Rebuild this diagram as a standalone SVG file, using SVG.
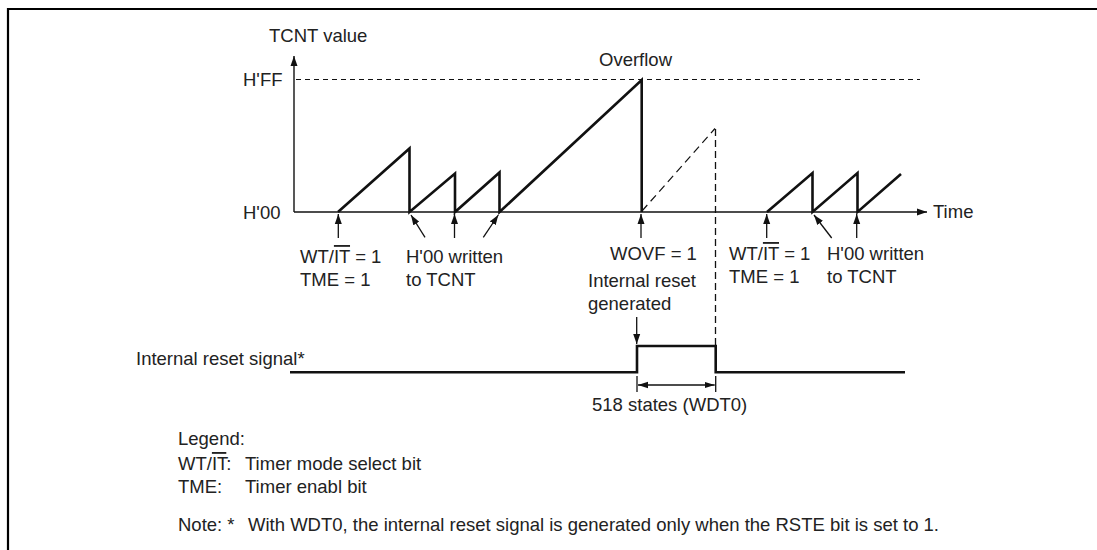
<svg xmlns="http://www.w3.org/2000/svg" width="1097" height="550" viewBox="0 0 1097 550">
<style>
text{font-family:"Liberation Sans",Arial,sans-serif;font-size:18.5px;fill:#222}
.ov{text-decoration:overline}
.ax{stroke:#111;stroke-width:1.4;fill:none}
.wave{stroke:#111;stroke-width:2.6;fill:none;stroke-linejoin:miter}
.ann{stroke:#111;stroke-width:1.3;fill:none}
.dash1{stroke:#111;stroke-width:1.2;fill:none;stroke-dasharray:5 4}
.dash2{stroke:#111;stroke-width:1.2;fill:none;stroke-dasharray:8 5}
.dash3{stroke:#111;stroke-width:1.3;fill:none;stroke-dasharray:7 4}
</style>
<defs>
<marker id="ah" markerUnits="userSpaceOnUse" markerWidth="12" markerHeight="8" refX="10" refY="4" orient="auto">
<path d="M0,0.5 L10,4 L0,7.5 Z" fill="#111"/>
</marker>
<marker id="ahs" markerUnits="userSpaceOnUse" markerWidth="12" markerHeight="8" refX="10" refY="4" orient="auto-start-reverse">
<path d="M0,0.8 L10,4 L0,7.2 Z" fill="#111"/>
</marker>
</defs>
<rect width="1097" height="550" fill="#fff"/>
<g id="frame">
<path d="M8,550 L8,9 L1097,9" stroke="#000" stroke-width="2.2" fill="none"/>
</g>
<g id="axes">
<line class="ax" x1="294" y1="212" x2="294" y2="56" marker-end="url(#ah)"/>
<line class="ax" x1="294" y1="212" x2="927" y2="212" marker-end="url(#ah)"/>
<line class="dash1" x1="296" y1="79.5" x2="920" y2="79.5"/>
<text x="269" y="42">TCNT value</text>
<text x="243" y="86">H'FF</text>
<text x="243" y="219">H'00</text>
<text x="933" y="218">Time</text>
<text x="599" y="66">Overflow</text>
</g>
<g id="tcnt-waveform">
<path class="wave" d="M338,212 L409.5,148.5 L409.5,212 L455,173.5 L455,212 L499.5,172.5 L499.5,212 L641.7,80 L641.7,212"/>
<path class="wave" d="M767,212 L812.5,173 L812.5,212 L857.5,173 L857.5,212 L901,174"/>
<line class="dash2" x1="642" y1="211" x2="715" y2="128.5"/>
<line class="dash3" x1="715.5" y1="129" x2="715.5" y2="346"/>
</g>
<g id="reset-signal">
<text x="136" y="365">Internal reset signal*</text>
<path class="wave" d="M290,372.3 L637,372.3 L637,346 L715.7,346 L715.7,372.3 L905,372.3"/>
<line class="ann" x1="637" y1="376" x2="637" y2="392"/>
<line class="ann" x1="715.7" y1="376" x2="715.7" y2="392"/>
<line class="ann" x1="638" y1="385" x2="714.7" y2="385" marker-start="url(#ahs)" marker-end="url(#ahs)"/>
<text x="592" y="411">518 states (WDT0)</text>
</g>
<g id="connectors">
<line class="ann" x1="338.3" y1="238" x2="338.3" y2="214" marker-end="url(#ah)"/>
<line class="ann" x1="425" y1="237.3" x2="411" y2="215" marker-end="url(#ah)"/>
<line class="ann" x1="454.5" y1="238" x2="454.5" y2="214" marker-end="url(#ah)"/>
<line class="ann" x1="483.3" y1="237.3" x2="498.3" y2="215" marker-end="url(#ah)"/>
<line class="ann" x1="641" y1="238" x2="641" y2="214" marker-end="url(#ah)"/>
<line class="ann" x1="636.7" y1="317" x2="636.7" y2="344" marker-end="url(#ah)"/>
<line class="ann" x1="766.7" y1="238" x2="766.7" y2="214" marker-end="url(#ah)"/>
<line class="ann" x1="831.7" y1="238" x2="814" y2="215" marker-end="url(#ah)"/>
<line class="ann" x1="856.7" y1="238" x2="856.7" y2="214" marker-end="url(#ah)"/>
</g>
<g id="label-start1">
<text x="300" y="263">WT/<tspan class="ov">IT</tspan> = 1</text>
<text x="300" y="286">TME = 1</text>
</g>
<g id="label-write1">
<text x="406" y="263">H'00 written</text>
<text x="406" y="286">to TCNT</text>
</g>
<g id="label-overflow">
<text x="610" y="260">WOVF = 1</text>
<text x="588" y="287">Internal reset</text>
<text x="588" y="310">generated</text>
</g>
<g id="label-start2">
<text x="729" y="260">WT/<tspan class="ov">IT</tspan> = 1</text>
<text x="729" y="283">TME = 1</text>
</g>
<g id="label-write2">
<text x="827" y="260">H'00 written</text>
<text x="827" y="283">to TCNT</text>
</g>
<g id="legend">
<text x="178" y="445">Legend:</text>
<text x="178" y="470">WT/<tspan class="ov">IT</tspan>:</text>
<text x="245" y="470">Timer mode select bit</text>
<text x="178" y="493">TME:</text>
<text x="245" y="493">Timer enabl bit</text>
<text x="178" y="531">Note: *</text>
<text x="248" y="531">With WDT0, the internal reset signal is generated only when the RSTE bit is set to 1.</text>
</g>
</svg>
